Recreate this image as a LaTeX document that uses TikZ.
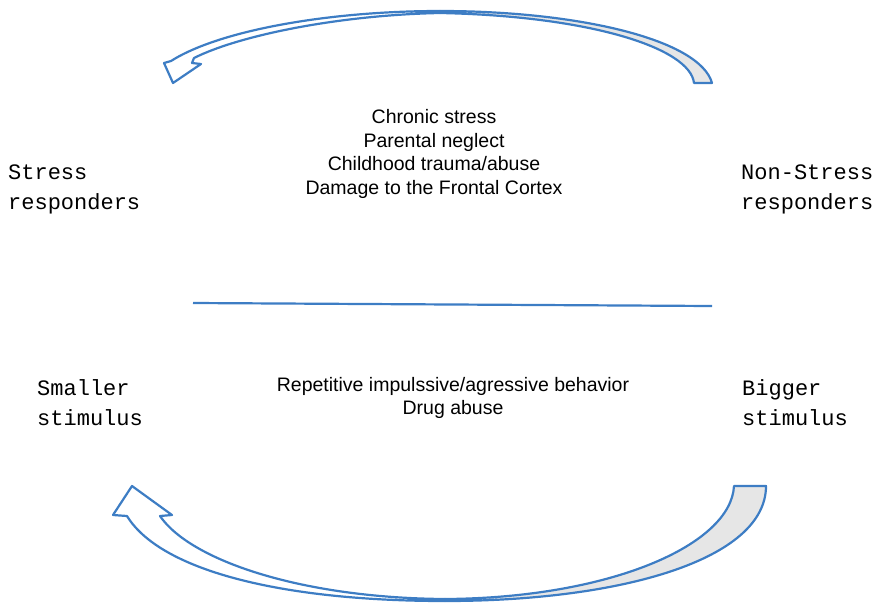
\documentclass[tikz,border=0pt]{standalone}
\usepackage{fontspec}
\setmainfont{Liberation Sans}
\setmonofont{Liberation Mono}
\usetikzlibrary{positioning}
\definecolor{arrowblue}{RGB}{61,125,196}
\definecolor{backgray}{RGB}{230,230,230}
\tikzset{
    sidetext/.style={font=\ttfamily\fontsize{22}{30}\selectfont, align=left, anchor=west, inner sep=0pt},
    causes/.style={font=\fontsize{19.5}{23.7}\selectfont, align=center, inner sep=0pt},
    bendarrow/.style={draw=arrowblue, line width=2.2pt, line join=round},
    divider/.style={draw=arrowblue, line width=2.2pt}
}

\begin{document}
\begin{tikzpicture}[x=1pt, y=-1pt]
        \useasboundingbox (0,0) rectangle (881,603);

        % Top arrow (right to left)
        \draw [bendarrow, fill=backgray] (694,83) .. controls (690,48) and (590,16) .. (440,13)
            -- (440,11) .. controls (580,11) and (700,40) .. (712,83) -- cycle;
        \draw [bendarrow, fill=white] (440,11) .. controls (330,11) and (220,30) .. (171,61)
            -- (164,63) -- (173,83) -- (201,64) -- (192,63) -- (194,58)
            .. controls (240,35) and (340,15) .. (440,13) -- cycle;

        % Bottom arrow (right to left)
        \draw [bendarrow, fill=backgray] (734,486) .. controls (731,545) and (610,598) .. (445,599)
            -- (445,601) .. controls (620,601) and (766,560) .. (766,486) -- cycle;
        \draw [bendarrow, fill=white] (445,601) .. controls (280,601) and (160,570) .. (127,516)
            -- (113,515) -- (132,486) -- (172,515) -- (160,516)
            .. controls (190,560) and (300,598) .. (445,599) -- cycle;

        % Side labels
        \node [sidetext] (stress) at (8,189) {Stress\\responders};
        \node [sidetext] (nonstress) at (741,189) {Non-Stress\\responders};
        \node [sidetext] (smaller) at (37,403) {Smaller\\stimulus};
        \node [sidetext] (bigger) at (742,403) {Bigger\\stimulus};

        % Centre texts
        \node [causes] (factors) at (434,154) {Chronic stress\\Parental neglect\\Childhood trauma/abuse\\Damage to the Frontal Cortex};
        \node [causes] (behaviour) at (453,398) {Repetitive impulssive/agressive behavior\\Drug abuse};

        % Dividing line
        \coordinate (divL) at (193,303);
        \coordinate (divR) at (712,306);
        \draw [divider] (divL) -- (divR);
    \end{tikzpicture}
\end{document}
